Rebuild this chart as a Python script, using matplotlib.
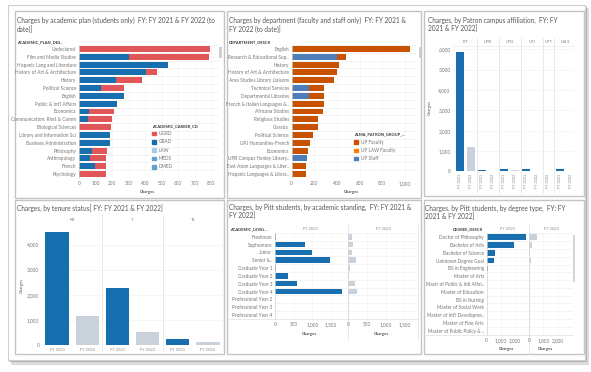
import numpy as np
import matplotlib
matplotlib.use("Agg")
import matplotlib.pyplot as plt
import matplotlib.transforms as mtransforms
from matplotlib.patches import Rectangle, Patch
from matplotlib.lines import Line2D

plt.rcParams['font.family'] = ['Lato', 'DejaVu Sans']

# ====== Data =======
plans = ["Undeclared", "Film and Media Studies", "Hispanic Lang and Literature",
         "History of Art & Architecture", "History", "Political Science", "English",
         "Public & Int'l Affairs", "Economics", "Communication: Rhet & Comm",
         "Biological Sciences", "Library and Information Sci", "Business Administration",
         "Philosophy", "Anthropology", "French", "Psychology"]
plan_grad = [0, 305, 537, 406, 224, 133, 271, 232, 63, 53, 0, 190, 190, 79, 67, 97, 8]
plan_ugrd = [794, 485, 0, 65, 156, 142, 0, 0, 149, 145, 194, 0, 0, 89, 99, 67, 154]

depts = ["English", "Research & Educational Sup..", "History", "History of Art & Architecture",
         "Area Studies Library Liaisons", "Technical Services", "Departmental Libraries",
         "French & Italian Languages &..", "Africana Studies", "Religious Studies", "Classics",
         "Political Science", "UPJ Humanities-French", "Economics", "UPB Campus Hanley Library..",
         "East Asian Languages & Liter..", "Hispanic Languages & Litera.."]
dept_staff = [0, 403, 0, 0, 0, 153, 153, 0, 0, 0, 0, 0, 0, 0, 135, 0, 0]
dept_faculty = [1047, 73, 418, 400, 376, 132, 132, 282, 276, 235, 232, 185, 159, 147, 0, 126, 124]

campus_bar_campus = ["PIT", "PIT", "UPB", "UPB", "UPG", "UPG", "UPJ", "UPJ", "UPT", "HSLS", "HSLS"]
campus_bar_year = ["FY 2021", "FY 2022", "FY 2021", "FY 2022", "FY 2021", "FY 2022",
                   "FY 2021", "FY 2022", "FY 2022", "FY 2021", "FY 2022"]
campus_bar_value = [5880, 1200, 70, 20, 140, 70, 100, 5, 5, 100, 30]

tenure = ["NT", "T", "TS"]
tenure_fy2021 = [4500, 2290, 240]
tenure_fy2022 = [1170, 530, 120]

levels = ["Freshman", "Sophomore", "Junior", "Senior &..", "Graduate Year 1", "Graduate Year 2",
          "Graduate Year 3", "Graduate Year 4", "Professional Year 2", "Professional Year 3",
          "Professional Year 4"]
level_fy2021 = [30, 813, 982, 1482, 40, 357, 589, 1795, 0, 0, 0]
level_fy2022 = [90, 116, 98, 205, 54, 27, 188, 241, 0, 0, 0]

degrees = ["Doctor of Philosophy", "Bachelor of Arts", "Bachelor of Science", "Unknown Degree Goal",
           "BS in Engineering", "Master of Arts", "Mastr of Public & Intl Affai..",
           "Master of Education", "BS in Nursing", "Master of Social Work",
           "Master of Int'l Developme..", "Master of Fine Arts", "Master of Public Policy & .."]
degree_fy2021 = [2776, 1953, 565, 518, 118, 20, 20, 20, 0, 0, 0, 0, 0]
degree_fy2022 = [565, 212, 47, 141, 10, 0, 0, 0, 0, 0, 0, 0, 0]

# ====== Colours =======
BLUE = "#176fb0"
GRAY = "#c9d1db"
RED = "#e15759"
ORANGE = "#c85200"
ORANGE2 = "#fc7d0b"
STAFF = "#4f7db8"
LAW = "#a3cce9"
MEDS = "#5fa2ce"
TXT = "#757575"
TITLE = "#555555"
FS = 3.4
TFS = 4.7

# ====== Figure helpers =======
W, H = 591, 372
fig = plt.figure(figsize=(W / 100, H / 100), dpi=100)


def box(x0, y0, x1, y1):
    return [x0 / W, 1 - y1 / H, (x1 - x0) / W, (y1 - y0) / H]


def ftext(x, y, s, **kw):
    kw.setdefault("fontsize", FS)
    kw.setdefault("color", TXT)
    kw.setdefault("va", "center")
    fig.text(x / W, 1 - y / H, s, **kw)


def fline(x0, y0, x1, y1, color="#e0e0e0", lw=0.5):
    fig.add_artist(Line2D([x0 / W, x1 / W], [1 - y0 / H, 1 - y1 / H], color=color, lw=lw, zorder=-1))


def frect(x0, y0, x1, y1, **kw):
    kw.setdefault("zorder", -1)
    fig.add_artist(Rectangle((x0 / W, 1 - y1 / H), (x1 - x0) / W, (y1 - y0) / H,
                             transform=fig.transFigure, **kw))


def style_hbar(ax, labels, xmax, ticks, ticklabels, show_labels=True):
    n = len(labels)
    ax.set_xlim(0, xmax)
    ax.set_ylim(n - 0.5, -0.5)
    ax.set_yticks(range(n))
    ax.set_yticklabels(labels if show_labels else [])
    ax.set_xticks(ticks)
    ax.set_xticklabels(ticklabels)
    ax.tick_params(length=0, labelsize=FS, labelcolor=TXT, pad=2)
    ax.tick_params(axis="x", pad=2.5)
    ax.set_facecolor("none")
    for s in ax.spines.values():
        s.set_visible(False)
    ax.spines["left"].set_visible(True)
    ax.spines["left"].set_color("#d6d6d6")
    ax.spines["left"].set_linewidth(0.5)
    for k in range(n + 1):
        ax.axhline(k - 0.5, color="#ececec", lw=0.4, zorder=0)
    for t in ticks:
        ax.axvline(t, color="#f2f2f2", lw=0.4, zorder=0)


def style_vbar(ax, ymax, yticks):
    ax.set_ylim(0, ymax)
    ax.set_yticks(yticks)
    ax.set_yticklabels([f"{v:,}" for v in yticks])
    ax.tick_params(length=0, labelsize=FS, labelcolor=TXT, pad=2)
    ax.set_facecolor("none")
    for s in ax.spines.values():
        s.set_visible(False)
    for v in yticks:
        ax.axhline(v, color="#efefef", lw=0.4, zorder=0)


# ====== Card and panels =======
frect(11, 8, 589, 365, facecolor="#b8b8b8", edgecolor="none", alpha=0.5, zorder=-4)
frect(9, 6, 587, 362, facecolor="#8c8c8c", edgecolor="none", alpha=0.5, zorder=-4)
frect(8, 5, 585, 360, facecolor="white", edgecolor="#d0d0d0", lw=0.8, zorder=-3)
for r in [(15, 11, 224, 198), (227, 11, 421, 198), (424, 11, 584, 196),
          (15, 200, 224, 354), (227, 200, 421, 354), (424, 200, 584, 354)]:
    frect(*r, facecolor="none", edgecolor="#c4c4c4", lw=1.0)

# ====== Panel 1: academic plan =======
ftext(17, 20.5, "Charges by academic plan (students only)  FY: FY 2021 & FY 2022 (to",
      fontsize=TFS, color=TITLE)
ftext(17, 29.3, "date)]", fontsize=TFS, color=TITLE)
ftext(17, 42.3, "ACADEMIC_PLAN_DES..", fontsize=2.9, color="#333333", weight="bold")
ax1 = fig.add_axes(box(79, 45, 219, 178))
y1 = np.arange(len(plans))
ax1.barh(y1, plan_grad, height=0.76, color=BLUE, label="GRAD")
ax1.barh(y1, plan_ugrd, left=plan_grad, height=0.76, color=RED, label="UGRD")
style_hbar(ax1, plans, 848, range(0, 801, 100), [str(v) for v in range(0, 801, 100)])
leg1 = ax1.legend(handles=[Patch(color=RED, label="UGRD"), Patch(color=BLUE, label="GRAD"),
                           Patch(color=LAW, label="LAW"), Patch(color=MEDS, label="MEDS"),
                           Patch(color=MEDS, label="DMED")],
                  title="ACADEMIC_CAREER_CD", loc="upper left",
                  bbox_to_anchor=(150 / W, 1 - 121.5 / H), bbox_transform=fig.transFigure,
                  frameon=False, fontsize=FS, title_fontsize=2.9, handlelength=0.8,
                  handleheight=0.8, labelspacing=0.7, borderpad=0, handletextpad=0.6,
                  alignment="left")
leg1.get_title().set_weight("bold")
leg1.get_title().set_color("#333333")
for t in leg1.get_texts():
    t.set_color(TXT)
ftext(147, 192, "Charges", ha="center", color="#555555", fontsize=3.1, weight="bold")
frect(218.5, 47, 221.5, 58, facecolor="#cfcfcf", edgecolor="none", zorder=2)

# ====== Panel 2: department =======
ftext(229, 20.5, "Charges by department (faculty and staff only)  FY: FY 2021 &",
      fontsize=TFS, color=TITLE)
ftext(229, 29.3, "FY 2022 (to date)]", fontsize=TFS, color=TITLE)
ftext(229, 42.3, "DEPARTMENT_DESCR", fontsize=2.9, color="#333333", weight="bold")
ax2 = fig.add_axes(box(291.7, 45, 416, 178))
y2 = np.arange(len(depts))
ax2.barh(y2, dept_staff, height=0.76, color=STAFF)
ax2.barh(y2, dept_faculty, left=dept_staff, height=0.76, color=ORANGE)
style_hbar(ax2, depts, 1097, range(0, 1001, 200), ["0", "200", "400", "600", "800", "1,000"])
leg2 = ax2.legend(handles=[Patch(color=ORANGE, label="UP Faculty"),
                           Patch(color=ORANGE2, label="UP LAW Faculty"),
                           Patch(color=STAFF, label="UP Staff")],
                  title="ALMA_PATRON_GROUP_...", loc="upper left",
                  bbox_to_anchor=(352 / W, 1 - 130 / H), bbox_transform=fig.transFigure,
                  frameon=False, fontsize=FS, title_fontsize=2.9, handlelength=0.8,
                  handleheight=0.8, labelspacing=0.7, borderpad=0, handletextpad=0.6,
                  alignment="left")
leg2.get_title().set_weight("bold")
leg2.get_title().set_color("#333333")
for t in leg2.get_texts():
    t.set_color(TXT)
ftext(352, 192, "Charges", ha="center", color="#555555", fontsize=3.1, weight="bold")
frect(418.5, 47, 421, 58, facecolor="#cfcfcf", edgecolor="none", zorder=2)

# ====== Panel 3: campus =======
ftext(428, 20.5, "Charges, by Patron campus affiliation,  FY: FY", fontsize=TFS, color=TITLE)
ftext(428, 28.5, "2021 & FY 2022]", fontsize=TFS, color=TITLE)
ax3 = fig.add_axes(box(453.4, 46, 575, 171.5))
x3 = np.arange(len(campus_bar_value))
ax3.bar(x3, campus_bar_value, width=0.72,
        color=[BLUE if yr == "FY 2021" else GRAY for yr in campus_bar_year])
ax3.set_xlim(-0.6, 10.4)
style_vbar(ax3, 6160, list(range(0, 6001, 1000)))
ax3.set_xticks(x3)
ax3.set_xticklabels(campus_bar_year, rotation=90, fontsize=2.7, color="#888888")
ax3.tick_params(axis="x", pad=1.5)
trans3 = mtransforms.blended_transform_factory(ax3.transData, ax3.transAxes)
campus_names = list(dict.fromkeys(campus_bar_campus))
for name in campus_names:
    pos = [i for i, c in enumerate(campus_bar_campus) if c == name]
    ax3.text(np.mean(pos), 1.032, name, transform=trans3, ha="center", va="center",
             fontsize=2.9, color="#777777")
    if pos[-1] < len(campus_bar_campus) - 1:
        ax3.axvline(pos[-1] + 0.5, ymin=-0.17, ymax=1.06, color="#e2e2e2", lw=0.5, clip_on=False)
ax3.axhline(6160, xmin=0, xmax=1, color="#e6e6e6", lw=0.4)
ftext(430, 107, "Charges", rotation=90, ha="center", fontsize=3.1, color="#555555")

# ====== Panel 4: tenure =======
ftext(17, 208.3, "Charges, by tenure status[ FY: FY 2021 & FY 2022]", fontsize=TFS, color=TITLE)
ax4 = fig.add_axes(box(42, 225, 223, 345))
t_vals, t_cols, t_labels = [], [], []
for a, b in zip(tenure_fy2021, tenure_fy2022):
    t_vals += [a, b]
    t_cols += [BLUE, GRAY]
    t_labels += ["FY 2021", "FY 2022"]
x4 = np.arange(len(t_vals))
ax4.bar(x4, t_vals, width=0.77, color=t_cols)
ax4.set_xlim(-0.5, 5.5)
style_vbar(ax4, 4780, list(range(0, 4001, 1000)))
ax4.set_xticks(x4)
ax4.set_xticklabels(t_labels, fontsize=2.9, color="#888888")
ax4.tick_params(axis="x", pad=2.5)
trans4 = mtransforms.blended_transform_factory(ax4.transData, ax4.transAxes)
for i, name in enumerate(tenure):
    ax4.text(2 * i + 0.5, 1.042, name, transform=trans4, ha="center", va="center",
             fontsize=2.9, color="#777777")
    if i > 0:
        ax4.axvline(2 * i - 0.5, ymin=-0.05, ymax=1.09, color="#e2e2e2", lw=0.5, clip_on=False)
ftext(22, 285, "Charges", rotation=90, ha="center", fontsize=3.1, color="#555555")

# ====== Panel 5: academic standing =======
ftext(229, 207.3, "Charges, by Pitt students, by academic standing,  FY: FY 2021 &",
      fontsize=TFS, color=TITLE)
ftext(229, 215.3, "FY 2022]", fontsize=TFS, color=TITLE)
ftext(230, 229, "ACADEMIC_LEVEL...", fontsize=2.9, color="#333333", weight="bold")
y5 = np.arange(len(levels))
ax5a = fig.add_axes(box(275, 232.8, 346.7, 318.9))
ax5a.barh(y5, level_fy2021, height=0.72, color=BLUE)
style_hbar(ax5a, levels, 1920, [0, 500, 1000, 1500], ["0", "500", "1,000", "1,500"])
ax5b = fig.add_axes(box(348.3, 232.8, 418.3, 318.9))
ax5b.barh(y5, level_fy2022, height=0.72, color=GRAY)
style_hbar(ax5b, levels, 1875, [0, 500, 1000, 1500], ["0", "500", "1,000", "1,500"], show_labels=False)
for ax, lab in [(ax5a, "FY 2021"), (ax5b, "FY 2022")]:
    ax.text(0.5, 1.045, lab, transform=ax.transAxes, ha="center", va="center",
            fontsize=2.9, color="#888888")
fline(229, 319, 418.3, 319)
fline(347.5, 225, 347.5, 340)
fline(418.3, 225, 418.3, 340)
ftext(310, 334, "Charges", ha="center", fontsize=3.1, color="#555555", weight="bold")
ftext(381, 334, "Charges", ha="center", fontsize=3.1, color="#555555", weight="bold")

# ====== Panel 6: degree type =======
ftext(425, 208.3, "Charges, by Pitt students, by degree type,  FY: FY", fontsize=TFS, color=TITLE)
ftext(425, 216.3, "2021 & FY 2022]", fontsize=TFS, color=TITLE)
ftext(483, 229, "DEGREE_DESCR", ha="right", fontsize=2.9, color="#333333", weight="bold")
y6 = np.arange(len(degrees))
ax6a = fig.add_axes(box(486.7, 233.4, 528.3, 334.6))
ax6a.barh(y6, degree_fy2021, height=0.72, color=BLUE)
style_hbar(ax6a, degrees, 2935, [0, 1000, 2000], ["0", "1,000", "2,000"])
ax6b = fig.add_axes(box(529.3, 233.4, 573, 334.6))
ax6b.barh(y6, degree_fy2022, height=0.72, color=GRAY)
style_hbar(ax6b, degrees, 3080, [0, 1000, 2000], ["0", "1,000", "2,000"], show_labels=False)
for ax, lab in [(ax6a, "FY 2021"), (ax6b, "FY 2022")]:
    ax.text(0.5, 1.04, lab, transform=ax.transAxes, ha="center", va="center",
            fontsize=2.9, color="#888888")
fline(424, 334.6, 573, 334.6)
fline(528.8, 225, 528.8, 354)
frect(572.5, 235, 575, 282, facecolor="#d6d6d6", edgecolor="none", zorder=2)
ftext(506, 349, "Charges", ha="center", fontsize=3.1, color="#555555", weight="bold")
ftext(546, 349, "Charges", ha="center", fontsize=3.1, color="#555555", weight="bold")

fig.savefig("out.png", dpi=100, facecolor="white")
